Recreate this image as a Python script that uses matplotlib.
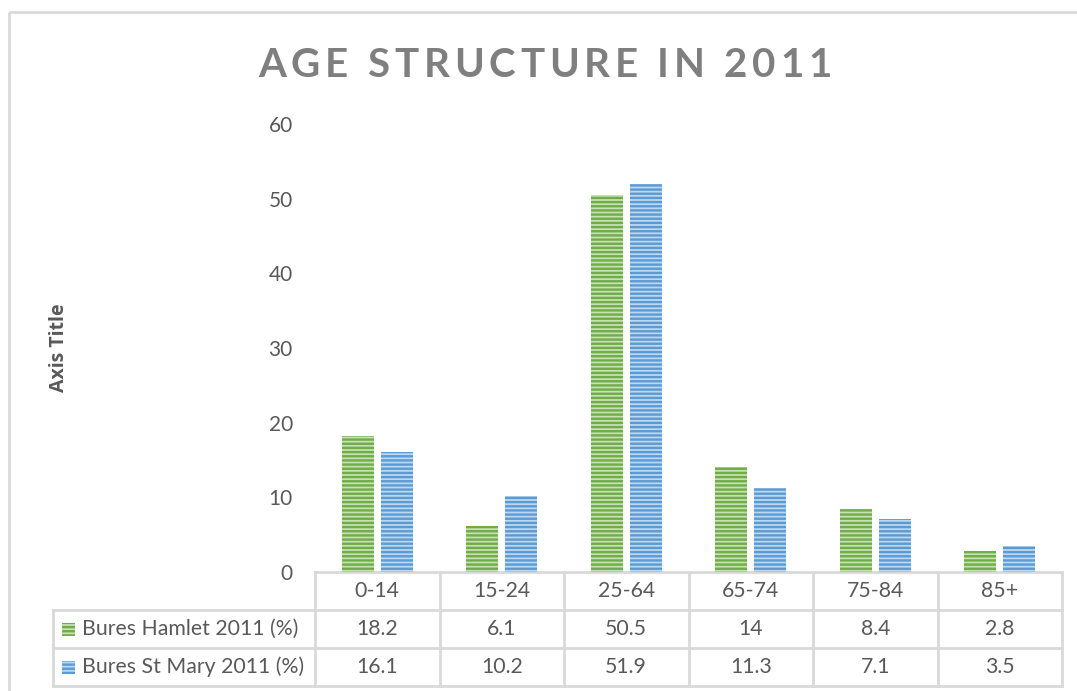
import numpy as np
import matplotlib
matplotlib.use("Agg")
from matplotlib import pyplot as plt
from matplotlib.font_manager import FontProperties
from matplotlib.patches import Rectangle

categories = ['0-14', '15-24', '25-64', '65-74', '75-84', '85+']
hamlet = [18.2, 6.1, 50.5, 14, 8.4, 2.8]
st_mary = [16.1, 10.2, 51.9, 11.3, 7.1, 3.5]
series_names = ['Bures Hamlet 2011 (%)', 'Bures St Mary 2011 (%)']
yticks = [0, 10, 20, 30, 40, 50, 60]

W, H = 1077, 691
FONT = 'Lato'
GREY = '#595959'
LINE = '#D9D9D9'
FACES = ['#C5E0B4', '#BDD7EE']
HATCHES = ['#70AD47', '#5B9BD5']
BAR_W = 0.257
OFFS = [-0.157, 0.157]

plt.rcParams['font.family'] = FONT
plt.rcParams['hatch.linewidth'] = 1.7

fig = plt.figure(figsize=(W / 100, H / 100), dpi=100)

def fx(px):
    return px / W

def fy(py):
    return 1 - py / H

# overlay in pixel coords for border + table
ov = fig.add_axes([0, 0, 1, 1])
ov.set_xlim(0, W)
ov.set_ylim(H, 0)
ov.axis('off')
ov.add_patch(Rectangle((9, 12), W + 20, H + 20, fill=False, edgecolor=LINE, lw=2))

ax = fig.add_axes([fx(315), fy(572), fx(1062) - fx(315), fy(124) - fy(572)])
ax.patch.set_alpha(0)
x = np.arange(len(categories))
for vals, off, fc, hc in zip([hamlet, st_mary], OFFS, FACES, HATCHES):
    ax.bar(x + off, vals, BAR_W, color=fc, edgecolor=hc, hatch='----', lw=0)
ax.set_xlim(-0.5, len(categories) - 0.5)
ax.set_ylim(0, 60)
ax.set_yticks(yticks)
ax.set_yticklabels([str(t) for t in yticks])
ax.set_xticks([])
ax.tick_params(axis='y', length=0, pad=16, labelsize=15, labelcolor=GREY)
for s in ax.spines.values():
    s.set_visible(False)

fig.canvas.draw()
edges = [ax.transData.transform((i - 0.5, 0))[0] for i in range(len(categories) + 1)]
centers = [ax.transData.transform((i, 0))[0] for i in range(len(categories))]
rows = [572, 610, 648, 686]
left = 53
lk = dict(color=LINE, lw=2)

ov.plot([edges[0], edges[-1]], [rows[0], rows[0]], **lk)
for r in rows[1:]:
    ov.plot([left, edges[-1]], [r, r], **lk)
ov.plot([left, left], [rows[1], rows[3]], **lk)
for e in edges:
    ov.plot([e, e], [rows[0], rows[3]], **lk)

tf = 15.3
for c, lab in zip(centers, categories):
    ov.text(c, (rows[0] + rows[1]) / 2, lab, ha='center', va='center', fontsize=tf, color=GREY)
for ri, (name, vals) in enumerate(zip(series_names, [hamlet, st_mary])):
    yc = (rows[ri + 1] + rows[ri + 2]) / 2
    ov.add_patch(Rectangle((62, yc - 6.5), 13, 13, facecolor=FACES[ri], edgecolor=HATCHES[ri],
                           hatch='----', lw=0))
    ov.text(82, yc, name, ha='left', va='center', fontsize=tf, color=GREY)
    for c, v in zip(centers, vals):
        ov.text(c, yc, f'{v:g}', ha='center', va='center', fontsize=tf, color=GREY)

# axis title
fig.text(fx(59), fy(348), 'Axis Title', rotation=90, ha='center', va='center',
         fontsize=14, fontweight='bold', color=GREY, family=['Open Sans', 'DejaVu Sans'])

# letter-spaced title
title = 'AGE STRUCTURE IN 2011'
fp = FontProperties(family=FONT, weight='bold', size=29)
rend = fig.canvas.get_renderer()
widths = [rend.get_text_width_height_descent(ch, fp, ismath=False)[0] for ch in title]
spacing = 4.8
total = sum(widths) + spacing * (len(title) - 1)
xpos = 545 - total / 2
for ch, w in zip(title, widths):
    ov.text(xpos, 77, ch, ha='left', va='baseline', fontproperties=fp, color='#7F7F7F')
    xpos += w + spacing

fig.savefig('out.png', dpi=100)
